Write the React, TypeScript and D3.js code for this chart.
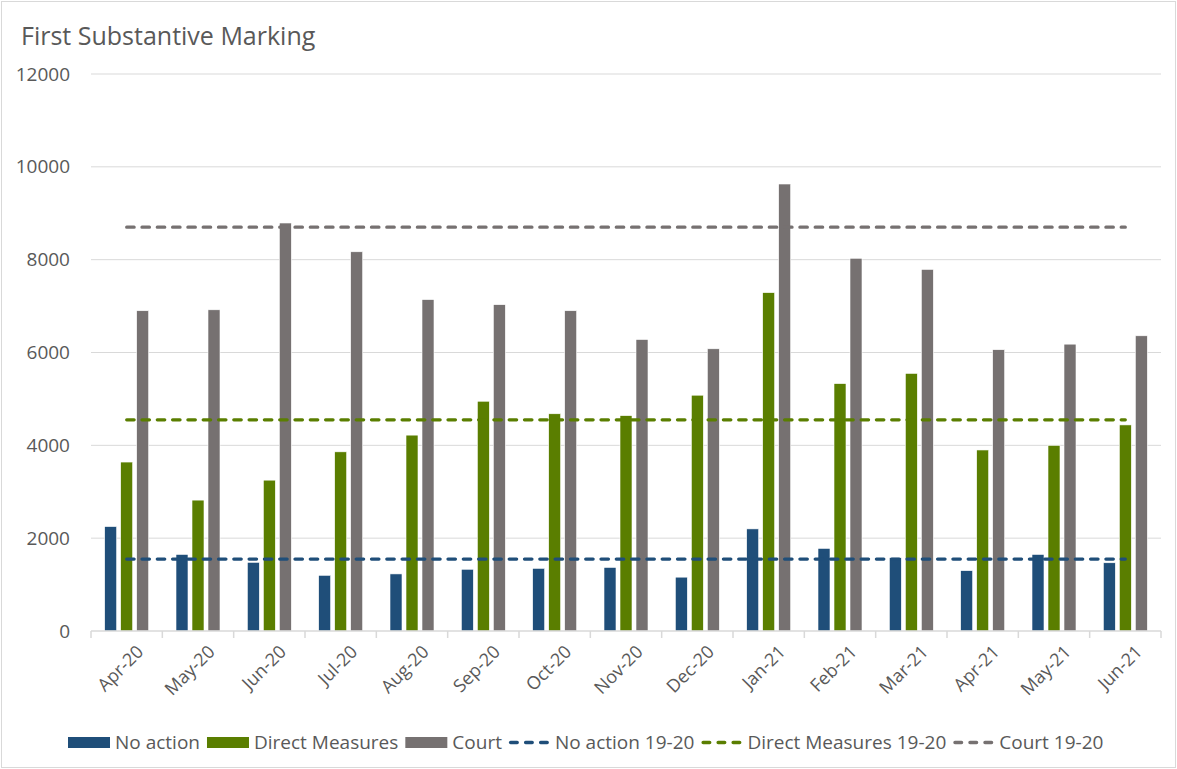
import { useEffect, useRef } from 'react';
import * as d3 from 'd3';

const WIDTH = 1177;
const HEIGHT = 769;
const MARGIN = { top: 74, right: 16, bottom: 138, left: 91 };
const FONT = '"Open Sans", Lato, sans-serif';
const TEXT_COLOR = '#595959';

const months = [
    'Apr-20', 'May-20', 'Jun-20', 'Jul-20', 'Aug-20', 'Sep-20', 'Oct-20', 'Nov-20',
    'Dec-20', 'Jan-21', 'Feb-21', 'Mar-21', 'Apr-21', 'May-21', 'Jun-21',
];
const noAction = [2250, 1650, 1480, 1200, 1230, 1330, 1350, 1370, 1160, 2200, 1780, 1580, 1300, 1650, 1470];
const directMeasures = [3640, 2820, 3250, 3860, 4220, 4950, 4680, 4640, 5080, 7290, 5330, 5550, 3900, 4000, 4440];
const court = [6900, 6920, 8790, 8170, 7140, 7030, 6900, 6280, 6080, 9630, 8030, 7790, 6060, 6180, 6360];

const seriesNames = ['No action', 'Direct Measures', 'Court'];
const seriesColors = ['#1f4e79', '#5a7e00', '#767171'];
const averageNames = ['No action 19-20', 'Direct Measures 19-20', 'Court 19-20'];
const averages = [1550, 4550, 8700];
const yTicks = [0, 2000, 4000, 6000, 8000, 10000, 12000];

export default function App() {
    const ref = useRef<SVGSVGElement>(null);

    useEffect(() => {
        const svg = d3.select(ref.current);
        svg.selectAll('*').remove();

        const boundsWidth = WIDTH - MARGIN.left - MARGIN.right;
        const boundsHeight = HEIGHT - MARGIN.top - MARGIN.bottom;

        svg.append('rect')
            .attr('x', 1.5).attr('y', 1.5)
            .attr('width', WIDTH - 3).attr('height', HEIGHT - 3)
            .attr('fill', '#fff').attr('stroke', '#d9d9d9');

        svg.append('text')
            .attr('x', 21).attr('y', 45)
            .attr('font-size', 25).attr('font-family', FONT)
            .attr('fill', TEXT_COLOR)
            .text('First Substantive Marking');

        const g = svg.append('g').attr('transform', `translate(${MARGIN.left},${MARGIN.top})`);

        const xScale = d3.scaleBand().domain(months).range([0, boundsWidth]).padding(0);
        const yScale = d3.scaleLinear().domain([0, 12000]).range([boundsHeight, 0]);
        const groupWidth = 44;
        const inner = d3.scaleBand().domain(seriesNames).range([0, groupWidth]).paddingInner(0.25);
        const offset = (xScale.bandwidth() - groupWidth) / 2;

        // grid
        g.selectAll('.grid')
            .data(yTicks.filter((t) => t > 0))
            .join('line')
            .attr('x1', 0).attr('x2', boundsWidth)
            .attr('y1', (d) => yScale(d)).attr('y2', (d) => yScale(d))
            .attr('stroke', '#d9d9d9').attr('stroke-width', 1);

        g.selectAll('.ylab')
            .data(yTicks)
            .join('text')
            .attr('x', -21).attr('y', (d) => yScale(d))
            .attr('dy', '0.35em')
            .attr('text-anchor', 'end')
            .attr('font-size', 19).attr('font-family', FONT)
            .attr('fill', TEXT_COLOR)
            .text((d) => d);

        // bars
        const allSeries = [noAction, directMeasures, court];
        allSeries.forEach((values, si) => {
            g.append('g')
                .selectAll('rect')
                .data(values)
                .join('rect')
                .attr('x', (_, i) => (xScale(months[i]) ?? 0) + offset + (inner(seriesNames[si]) ?? 0))
                .attr('y', (d) => yScale(d))
                .attr('width', inner.bandwidth())
                .attr('height', (d) => boundsHeight - yScale(d))
                .attr('fill', seriesColors[si])
                .attr('stroke', '#ffffff')
                .attr('stroke-width', 0.6);
        });

        // axis line and ticks
        g.append('line')
            .attr('x1', 0).attr('x2', boundsWidth)
            .attr('y1', boundsHeight).attr('y2', boundsHeight)
            .attr('stroke', '#d9d9d9').attr('stroke-width', 1.5);
        const boundaries = months.map((m) => xScale(m) ?? 0).concat([boundsWidth]);
        g.selectAll('.tick')
            .data(boundaries)
            .join('line')
            .attr('x1', (d) => d).attr('x2', (d) => d)
            .attr('y1', boundsHeight).attr('y2', boundsHeight + 7)
            .attr('stroke', '#d9d9d9').attr('stroke-width', 1.5);

        g.selectAll('.xlab')
            .data(months)
            .join('text')
            .attr('transform', (d) => `translate(${(xScale(d) ?? 0) + xScale.bandwidth() / 2 + 9},${boundsHeight + 13}) rotate(-45)`)
            .attr('text-anchor', 'end')
            .attr('dy', '0.7em')
            .attr('font-size', 18).attr('font-family', FONT)
            .attr('fill', TEXT_COLOR)
            .text((d) => d);

        // average lines
        const x0 = (xScale(months[0]) ?? 0) + xScale.bandwidth() / 2;
        const x1 = (xScale(months[months.length - 1]) ?? 0) + xScale.bandwidth() / 2;
        averages.forEach((v, i) => {
            g.append('line')
                .attr('x1', x0).attr('x2', x1)
                .attr('y1', yScale(v)).attr('y2', yScale(v))
                .attr('stroke', seriesColors[i])
                .attr('stroke-width', 3.2)
                .attr('stroke-linecap', 'round')
                .attr('stroke-dasharray', '7.5,7.8');
        });

        // legend
        const legend = svg.append('g').attr('transform', 'translate(68,742.5)');
        let cx = 0;
        const items = [
            ...seriesNames.map((n, i) => ({ name: n, color: seriesColors[i], line: false })),
            ...averageNames.map((n, i) => ({ name: n, color: seriesColors[i], line: true })),
        ];
        items.forEach((it) => {
            if (it.line) {
                legend.append('line')
                    .attr('x1', cx + 1.7).attr('x2', cx + 40)
                    .attr('y1', 0).attr('y2', 0)
                    .attr('stroke', it.color)
                    .attr('stroke-width', 3.4)
                    .attr('stroke-linecap', 'round')
                    .attr('stroke-dasharray', '6.6,8.4');
                cx += 46;
            } else {
                legend.append('rect')
                    .attr('x', cx).attr('y', -5.5)
                    .attr('width', 42).attr('height', 11)
                    .attr('fill', it.color);
                cx += 47;
            }
            const t = legend.append('text')
                .attr('x', cx).attr('y', 0)
                .attr('dy', '0.35em')
                .attr('font-size', 19).attr('font-family', FONT)
                .attr('fill', TEXT_COLOR)
                .text(it.name);
            const w = (t.node() as SVGTextElement).getComputedTextLength();
            cx += w + 7;
        });
    }, []);

    return (
        <div>
            <style>{'body{margin:0}'}</style>
            <svg ref={ref} width={WIDTH} height={HEIGHT} viewBox={`0 0 ${WIDTH} ${HEIGHT}`} style={{ display: 'block' }} />
        </div>
    );
}
